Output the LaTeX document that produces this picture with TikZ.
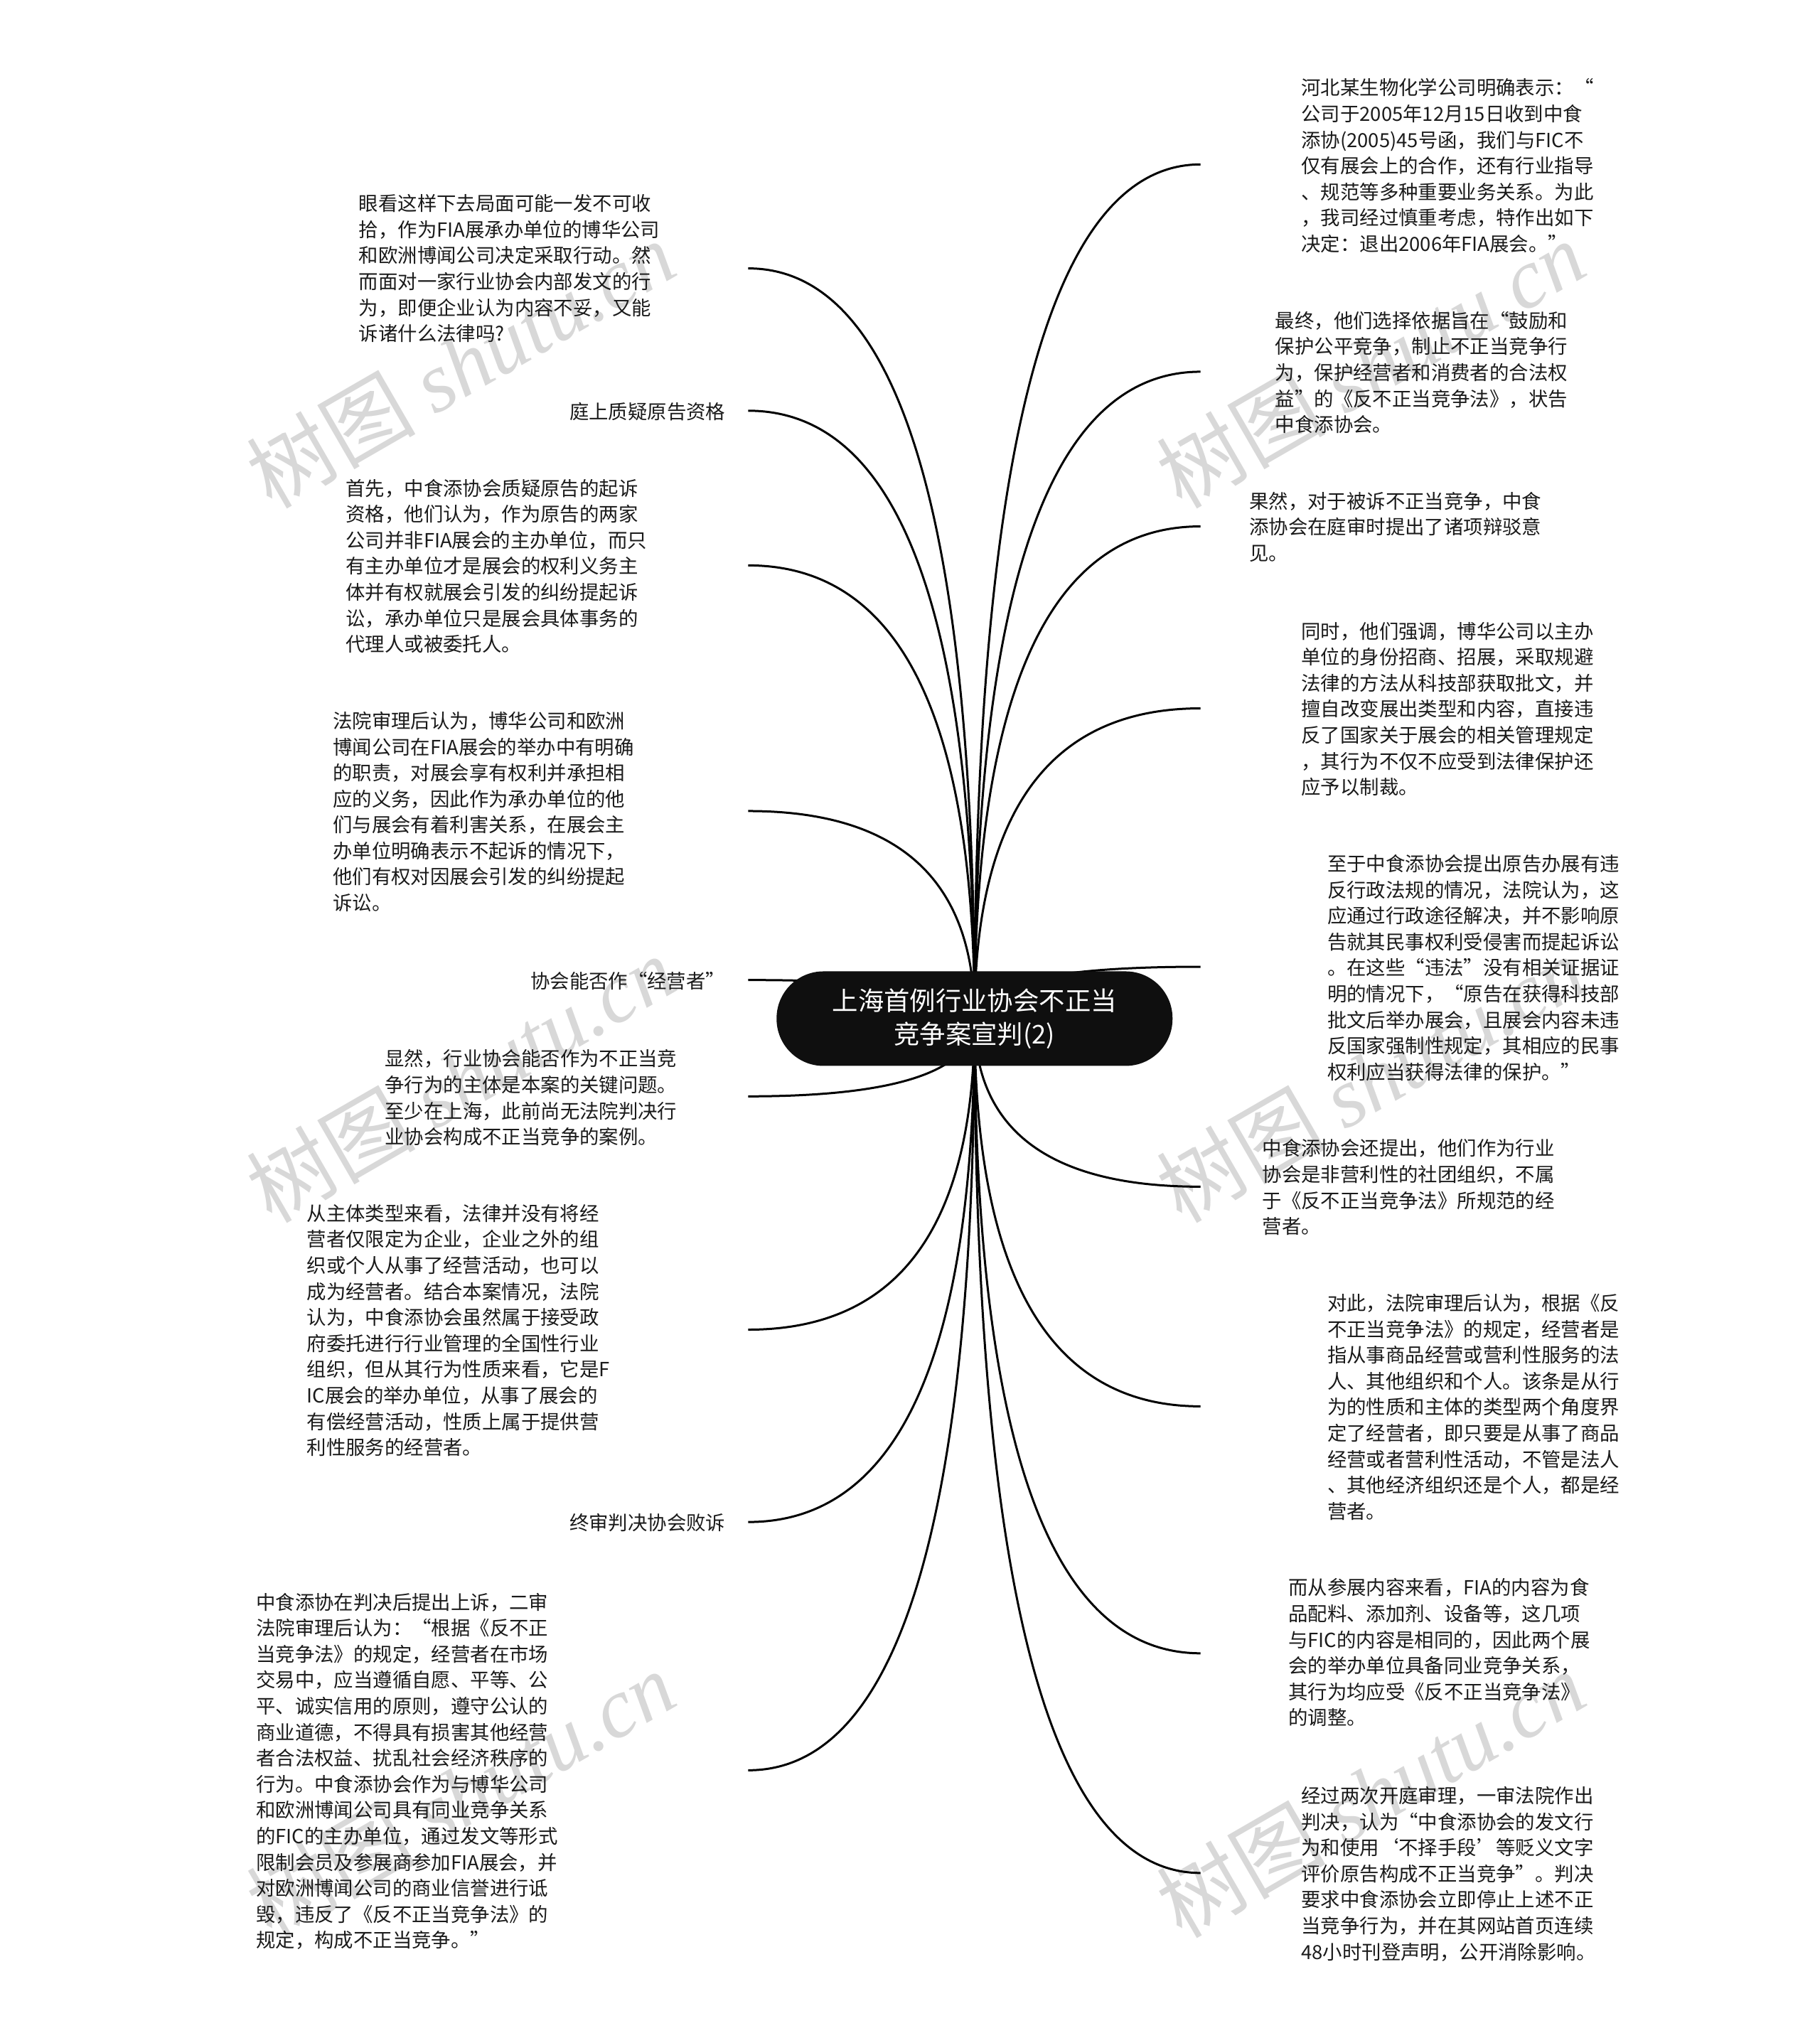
\documentclass[tikz,border=0pt]{standalone}
\usepackage{fontspec}
\usetikzlibrary{calc}
\setmainfont{Noto Sans CJK SC}
\newfontfamily\wmserif{Liberation Serif}[ItalicFont=* Italic]
\pgfdeclarelayer{wmlayer}
\pgfdeclarelayer{linelayer}
\pgfsetlayers{wmlayer,linelayer,main}
\definecolor{rootfill}{HTML}{0F0F0F}
\definecolor{wmgray}{HTML}{D8D8D8}
\definecolor{leaftext}{HTML}{1A1A1A}
\tikzset{
  rootnode/.style={rectangle,rounded corners=66pt,fill=rootfill,text=white,minimum width=557pt,minimum height=133pt,inner sep=0pt,align=center,font=\fontsize{36.4}{47}\selectfont},
  leafnode/.style={anchor=north west,inner sep=0pt,yshift=12pt,align=left,text=leaftext,font=\fontsize{27.4}{36.6}\selectfont},
  branchline/.style={line width=3pt,draw=black,line cap=butt},
  wmnode/.style={rotate=30,text=wmgray,inner sep=0pt,font=\fontsize{119}{130}\selectfont}
}
\newcommand{\leafnd}[4]{\node[leafnode] (#1) at (#2,#3) {\rule{0pt}{22pt}#4};}
\newcommand{\wmark}[3]{\node[wmnode] (#1) at (#2,#3) {树图 {\wmserif\itshape shutu.cn}};}
\newcommand{\branch}[3]{\coordinate (#1) at (#2,#3);
  \draw[branchline] (root.center) .. controls ($(root.center)!.6667!(root.center|-#1)$) and ($(#1)!.6667!(root.center|-#1)$) .. (#1);}
\begin{document}
\begin{tikzpicture}[x=1.8286pt,y=-1.8286pt]
\useasboundingbox (0,0) rectangle (1400,1568);
\node[rootnode] (root) at (749.7,783.7) {上海首例行业协会不正当\\竞争案宣判(2)};
\begin{pgfonlayer}{wmlayer}
\wmark{w1}{354}{280}
\wmark{w2}{1054}{280}
\wmark{w3}{354}{830}
\wmark{w4}{1054}{830}
\wmark{w5}{354}{1380}
\wmark{w6}{1054}{1380}
\end{pgfonlayer}
\begin{pgfonlayer}{linelayer}
\branch{l1}{575.6}{206.5}
\branch{l2}{575.6}{316}
\branch{l3}{575.6}{435}
\branch{l4}{575.6}{624}
\branch{l5}{575.6}{754}
\branch{l6}{575.6}{843.5}
\branch{l7}{575.6}{1023}
\branch{l8}{575.6}{1171}
\branch{l9}{575.6}{1362}
\branch{r1}{923.5}{126.5}
\branch{r2}{923.5}{286}
\branch{r3}{923.5}{405}
\branch{r4}{923.5}{545}
\branch{r5}{923.5}{743.8}
\branch{r6}{923.5}{913}
\branch{r7}{923.5}{1082}
\branch{r8}{923.5}{1272}
\branch{r9}{923.5}{1441}
\end{pgfonlayer}
\leafnd{tl1}{276}{156}{眼看这样下去局面可能一发不可收\\拾，作为FIA展承办单位的博华公司\\和欧洲博闻公司决定采取行动。然\\而面对一家行业协会内部发文的行\\为，即便企业认为内容不妥，又能\\诉诸什么法律吗?}
\leafnd{tl2}{438}{316}{庭上质疑原告资格}
\leafnd{tl3}{266}{375}{首先，中食添协会质疑原告的起诉\\资格，他们认为，作为原告的两家\\公司并非FIA展会的主办单位，而只\\有主办单位才是展会的权利义务主\\体并有权就展会引发的纠纷提起诉\\讼，承办单位只是展会具体事务的\\代理人或被委托人。}
\leafnd{tl4}{256}{554}{法院审理后认为，博华公司和欧洲\\博闻公司在FIA展会的举办中有明确\\的职责，对展会享有权利并承担相\\应的义务，因此作为承办单位的他\\们与展会有着利害关系，在展会主\\办单位明确表示不起诉的情况下，\\他们有权对因展会引发的纠纷提起\\诉讼。}
\leafnd{tl5}{408}{754}{协会能否作“经营者”}
\leafnd{tl6}{296}{814}{显然，行业协会能否作为不正当竞\\争行为的主体是本案的关键问题。\\至少在上海，此前尚无法院判决行\\业协会构成不正当竞争的案例。}
\leafnd{tl7}{236}{933}{从主体类型来看，法律并没有将经\\营者仅限定为企业，企业之外的组\\织或个人从事了经营活动，也可以\\成为经营者。结合本案情况，法院\\认为，中食添协会虽然属于接受政\\府委托进行行业管理的全国性行业\\组织，但从其行为性质来看，它是F\\IC展会的举办单位，从事了展会的\\有偿经营活动，性质上属于提供营\\利性服务的经营者。}
\leafnd{tl8}{438}{1171}{终审判决协会败诉}
\leafnd{tl9}{197}{1232}{中食添协在判决后提出上诉，二审\\法院审理后认为：“根据《反不正\\当竞争法》的规定，经营者在市场\\交易中，应当遵循自愿、平等、公\\平、诚实信用的原则，遵守公认的\\商业道德，不得具有损害其他经营\\者合法权益、扰乱社会经济秩序的\\行为。中食添协会作为与博华公司\\和欧洲博闻公司具有同业竞争关系\\的FIC的主办单位，通过发文等形式\\限制会员及参展商参加FIA展会，并\\对欧洲博闻公司的商业信誉进行诋\\毁，违反了《反不正当竞争法》的\\规定，构成不正当竞争。”}
\leafnd{tr1}{1001}{67}{河北某生物化学公司明确表示：“\\公司于2005年12月15日收到中食\\添协(2005)45号函，我们与FIC不\\仅有展会上的合作，还有行业指导\\、规范等多种重要业务关系。为此\\，我司经过慎重考虑，特作出如下\\决定：退出2006年FIA展会。”}
\leafnd{tr2}{981}{246}{最终，他们选择依据旨在“鼓励和\\保护公平竞争，制止不正当竞争行\\为，保护经营者和消费者的合法权\\益”的《反不正当竞争法》，状告\\中食添协会。}
\leafnd{tr3}{961}{385}{果然，对于被诉不正当竞争，中食\\添协会在庭审时提出了诸项辩驳意\\见。}
\leafnd{tr4}{1001}{485}{同时，他们强调，博华公司以主办\\单位的身份招商、招展，采取规避\\法律的方法从科技部获取批文，并\\擅自改变展出类型和内容，直接违\\反了国家关于展会的相关管理规定\\，其行为不仅不应受到法律保护还\\应予以制裁。}
\leafnd{tr5}{1021}{664}{至于中食添协会提出原告办展有违\\反行政法规的情况，法院认为，这\\应通过行政途径解决，并不影响原\\告就其民事权利受侵害而提起诉讼\\。在这些“违法”没有相关证据证\\明的情况下，“原告在获得科技部\\批文后举办展会，且展会内容未违\\反国家强制性规定，其相应的民事\\权利应当获得法律的保护。”}
\leafnd{tr6}{971}{883}{中食添协会还提出，他们作为行业\\协会是非营利性的社团组织，不属\\于《反不正当竞争法》所规范的经\\营者。}
\leafnd{tr7}{1021}{1002}{对此，法院审理后认为，根据《反\\不正当竞争法》的规定，经营者是\\指从事商品经营或营利性服务的法\\人、其他组织和个人。该条是从行\\为的性质和主体的类型两个角度界\\定了经营者，即只要是从事了商品\\经营或者营利性活动，不管是法人\\、其他经济组织还是个人，都是经\\营者。}
\leafnd{tr8}{991}{1221}{而从参展内容来看，FIA的内容为食\\品配料、添加剂、设备等，这几项\\与FIC的内容是相同的，因此两个展\\会的举办单位具备同业竞争关系，\\其行为均应受《反不正当竞争法》\\的调整。}
\leafnd{tr9}{1001}{1381}{经过两次开庭审理，一审法院作出\\判决，认为“中食添协会的发文行\\为和使用‘不择手段’等贬义文字\\评价原告构成不正当竞争”。判决\\要求中食添协会立即停止上述不正\\当竞争行为，并在其网站首页连续\\48小时刊登声明，公开消除影响。}
\end{tikzpicture}
\end{document}
